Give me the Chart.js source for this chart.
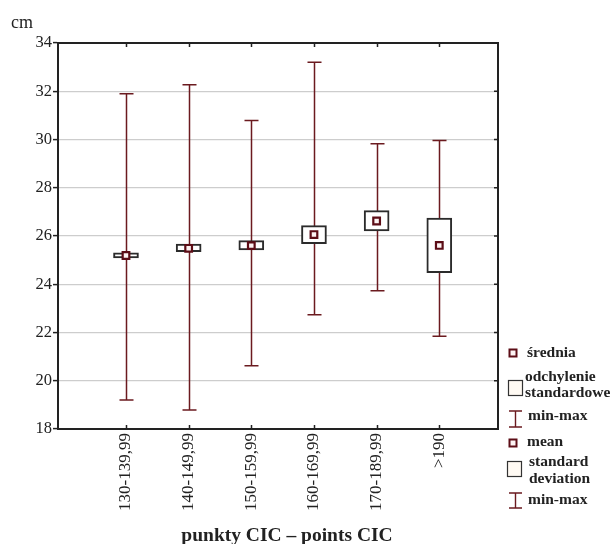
<!DOCTYPE html>
<html>
<head>
<meta charset="utf-8">
<script src="https://cdn.jsdelivr.net/npm/chart.js@4.4.1/dist/chart.umd.min.js"></script>
<style>
  html, body { margin: 0; padding: 0; background: #ffffff; }
  canvas { display: block; }
</style>
</head>
<body>
<canvas id="c" width="611" height="544"></canvas>
<script>
const categories = ['130-139,99', '140-149,99', '150-159,99', '160-169,99', '170-189,99', '>190'];
const means  = [25.19, 25.49, 25.60, 26.06, 26.62, 25.61];
const sdLow  = [25.09, 25.35, 25.42, 25.68, 26.21, 24.48];
const sdHigh = [25.30, 25.66, 25.81, 26.43, 27.05, 26.74];
const minVals = [19.20, 18.79, 20.62, 22.74, 23.73, 21.84];
const maxVals = [31.90, 32.27, 30.79, 33.20, 29.82, 29.96];
const yTicks = [18, 20, 22, 24, 26, 28, 30, 32, 34];
const legendLabels = ['średnia', 'odchylenie', 'standardowe', 'min-max', 'mean', 'standard', 'deviation', 'min-max'];
const yUnit = 'cm';
const xTitle = 'punkty CIC – points CIC';

const MAROON = '#6b1a1f';
const MEAN_BORDER = '#5c0d16';
const MEAN_FILL = '#fdf3f3';
const INK = '#222222';
const SERIF = '"Liberation Serif", "Times New Roman", serif';

const whiskerPlugin = {
  id: 'whiskers',
  beforeDatasetsDraw(chart) {
    const ctx = chart.ctx, xs = chart.scales.x, ys = chart.scales.y;
    ctx.save();
    ctx.strokeStyle = MAROON;
    ctx.lineWidth = 1.5;
    categories.forEach((c, i) => {
      const x = Math.round(xs.getPixelForValue(i)) + 0.5;
      const y1 = ys.getPixelForValue(maxVals[i]);
      const y2 = ys.getPixelForValue(minVals[i]);
      ctx.beginPath();
      ctx.moveTo(x, y1); ctx.lineTo(x, y2);
      ctx.moveTo(x - 7, y1); ctx.lineTo(x + 7, y1);
      ctx.moveTo(x - 7, y2); ctx.lineTo(x + 7, y2);
      ctx.stroke();
    });
    ctx.restore();
  }
};

const decorPlugin = {
  id: 'decor',
  afterDatasetsDraw(chart) {
    const ctx = chart.ctx, a = chart.chartArea, xs = chart.scales.x, ys = chart.scales.y;
    ctx.save();
    // frame top and right
    ctx.strokeStyle = INK;
    ctx.lineWidth = 2;
    ctx.beginPath();
    ctx.moveTo(a.left - 1, a.top); ctx.lineTo(a.right, a.top); ctx.lineTo(a.right, a.bottom + 1);
    ctx.stroke();
    // inward ticks
    ctx.lineWidth = 1.5;
    ctx.beginPath();
    categories.forEach((c, i) => {
      const x = Math.round(xs.getPixelForValue(i)) + 0.5;
      ctx.moveTo(x, a.top); ctx.lineTo(x, a.top + 4);
      ctx.moveTo(x, a.bottom); ctx.lineTo(x, a.bottom - 4);
    });
    yTicks.forEach(v => {
      const y = ys.getPixelForValue(v);
      ctx.moveTo(a.right, y); ctx.lineTo(a.right - 4, y);
    });
    ctx.stroke();

    // unit label
    ctx.fillStyle = INK;
    ctx.font = '18px ' + SERIF;
    ctx.textBaseline = 'middle';
    ctx.textAlign = 'left';
    ctx.fillText(yUnit, 11, 23);

    // x title
    ctx.font = 'bold 19.5px ' + SERIF;
    ctx.textAlign = 'center';
    ctx.fillText(xTitle, 287, 536);

    // legend
    const drawMean = (cx, cy) => {
      ctx.fillStyle = MEAN_FILL;
      ctx.fillRect(cx - 3.5, cy - 3.5, 7, 7);
      ctx.strokeStyle = MEAN_BORDER;
      ctx.lineWidth = 2;
      ctx.strokeRect(cx - 3.5, cy - 3.5, 7, 7);
    };
    const drawBox = (x, y) => {
      ctx.fillStyle = '#fffaf3';
      ctx.fillRect(x, y, 14, 15);
      ctx.strokeStyle = '#333';
      ctx.lineWidth = 1.2;
      ctx.strokeRect(x + 0.5, y + 0.5, 14, 15);
    };
    const drawBeam = (cx, y1, y2) => {
      ctx.strokeStyle = MAROON;
      ctx.lineWidth = 1.4;
      ctx.beginPath();
      ctx.moveTo(cx, y1); ctx.lineTo(cx, y2);
      ctx.moveTo(cx - 6.5, y1); ctx.lineTo(cx + 6.5, y1);
      ctx.moveTo(cx - 6.5, y2); ctx.lineTo(cx + 6.5, y2);
      ctx.stroke();
    };
    drawMean(513, 353);
    drawBox(508, 380);
    drawBeam(515.5, 411, 427);
    drawMean(513, 443);
    drawBox(507, 461);
    drawBeam(515.5, 493, 508);

    ctx.fillStyle = INK;
    ctx.font = 'bold 15.5px ' + SERIF;
    ctx.textAlign = 'left';
    ctx.textBaseline = 'middle';
    const lx = [527, 525, 525, 528, 527, 529, 529, 528];
    const ly = [353, 377, 393, 416, 442, 462, 479, 500];
    legendLabels.forEach((t, i) => ctx.fillText(t, lx[i], ly[i]));
    ctx.restore();
  }
};

new Chart(document.getElementById('c'), {
  data: {
    datasets: [
      {
        type: 'scatter',
        label: 'mean',
        order: 0,
        data: means.map((m, i) => ({ x: i, y: m })),
        pointStyle: 'rect',
        pointRadius: 4.7,
        pointHoverRadius: 4.7,
        borderWidth: 2.2,
        borderColor: MEAN_BORDER,
        backgroundColor: MEAN_FILL
      },
      {
        type: 'bar',
        label: 'sd',
        order: 1,
        data: sdLow.map((lo, i) => ({ x: i, y: [lo, sdHigh[i]] })),
        backgroundColor: '#ffffff',
        borderColor: '#2b2b2b',
        borderWidth: 2,
        borderSkipped: false,
        barThickness: 25,
        grouped: false
      }
    ]
  },
  options: {
    responsive: false,
    animation: false,
    events: [],
    layout: { padding: { left: 0, top: 43, right: 113, bottom: 0 } },
    plugins: { legend: { display: false }, title: { display: false }, tooltip: { enabled: false } },
    scales: {
      x: {
        type: 'linear',
        min: -1.085,
        max: 5.937,
        offset: false,
        afterBuildTicks(s) { s.ticks = categories.map((c, i) => ({ value: i })); },
        afterFit(s) { s.height = 115; },
        ticks: {
          autoSkip: false,
          minRotation: 90,
          maxRotation: 90,
          padding: -4,
          color: INK,
          font: { family: SERIF, size: 17 },
          callback: (v) => categories[v]
        },
        grid: { display: false },
        border: { display: true, color: INK, width: 2 }
      },
      y: {
        type: 'linear',
        min: 18,
        max: 34,
        afterBuildTicks(s) { s.ticks = yTicks.map(v => ({ value: v })); },
        afterFit(s) { s.width = 58; },
        ticks: {
          padding: 1,
          color: INK,
          font: { family: SERIF, size: 16.5 },
          callback: (v) => String(v)
        },
        grid: { color: '#cdcdcd', lineWidth: 1.2, tickLength: 5, tickColor: INK, tickWidth: 1.5 },
        border: { display: true, color: INK, width: 2 }
      }
    }
  },
  plugins: [whiskerPlugin, decorPlugin]
});
</script>
</body>
</html>
